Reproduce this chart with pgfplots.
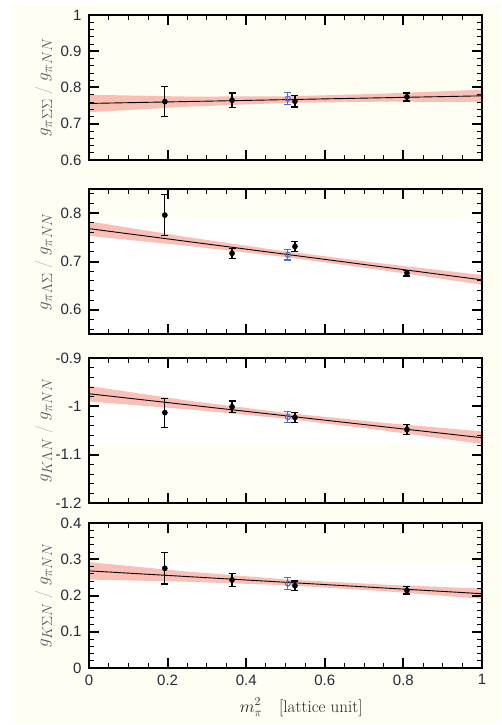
\documentclass[border=0pt]{standalone}
\usepackage{fontspec}
\usepackage{pgfplots}
\pgfplotsset{compat=1.18}
\newfontfamily\tickfont{Liberation Sans}
\definecolor{cream}{RGB}{255,254,242}
\definecolor{bandcol}{RGB}{250,180,170}
\definecolor{ptblue}{RGB}{70,110,220}
\definecolor{lblgray}{RGB}{85,85,95}
\definecolor{ticktext}{RGB}{40,40,60}

\pgfplotsset{
  panel/.style={
    scale only axis, width=393pt, height=145pt,
    xmin=0, xmax=1,
    xtick={0,0.2,0.4,0.6,0.8,1},
    tick align=inside,
    tick label style={font=\tickfont\fontsize{15}{15}\selectfont, text=ticktext},
    yticklabel style={xshift=-4pt},
    xticklabel style={yshift=-3pt},
    ylabel style={at={(axis description cs:-0.115,0.5)}, anchor=center,
      font=\fontsize{19}{19}\selectfont, text=lblgray},
  },
  % empty axis drawn on top: frame and inward ticks only
  frame/.style={
    scale only axis, width=393pt, height=145pt,
    xmin=0, xmax=1,
    xtick={0,0.2,0.4,0.6,0.8,1},
    minor xtick={0.05,0.1,0.15,0.25,0.3,0.35,0.45,0.5,0.55,0.65,0.7,0.75,0.85,0.9,0.95},
    tick align=inside, xtick pos=both, ytick pos=both,
    major tick length=10pt, minor tick length=5pt,
    major tick style={line width=2pt, black},
    minor tick style={line width=0.9pt, black},
    axis line style={line width=1.8pt},
    xticklabels={}, yticklabels={},
  },
  bandsty/.style={fill=bandcol, draw=none, fill opacity=0.85},
  fitline/.style={black, line width=0.9pt, no marks},
  pts/.style={only marks, mark=*, mark size=2.6pt, black,
    error bars/y dir=both, error bars/y explicit,
    error bars/error bar style={line width=1.2pt, black},
    error bars/error mark options={rotate=90, mark size=3.5pt, line width=1.2pt, black}},
  bluept/.style={only marks, mark=o, mark size=2.6pt, ptblue,
    mark options={fill=white, line width=1pt},
    error bars/y dir=both, error bars/y explicit,
    error bars/error bar style={line width=1.2pt, ptblue},
    error bars/error mark options={rotate=90, mark size=3.5pt, line width=1.2pt, ptblue}},
}
\pgfplotsset{/pgf/number format/assume math mode=true}

\begin{document}
\begin{tikzpicture}
\path (0pt,0pt) rectangle (501pt,-725pt);
\fill[cream] (11pt,-3pt) rectangle (501pt,-722pt);
% white patches of the plot areas
\fill[white] (89pt,-218pt) rectangle (482pt,-334pt);
\fill[white] (89pt,-358pt) rectangle (482pt,-445pt);
\fill[white] (89pt,-562pt) rectangle (482pt,-668pt);

% panel 1
\begin{axis}[panel, at={(89pt,-15pt)}, anchor=north west,
  ymin=0.6, ymax=1, ytick={0.6,0.7,0.8,0.9,1}, xticklabels={},
  ylabel={$g_{\pi\Sigma\Sigma}\;{\color{gray!60}/}\;g_{\pi NN}$}]
\addplot[bandsty] coordinates {(0,0.780) (0.25,0.775) (0.5,0.7755) (0.75,0.783) (1,0.794)
  (1,0.760) (0.75,0.761) (0.5,0.7575) (0.25,0.747) (0,0.732)} -- cycle;
\addplot[fitline] coordinates {(0,0.756) (1,0.777)};
\addplot[bluept] coordinates {(0.506,0.769) +- (0,0.017)};
\addplot[pts] coordinates {
  (0.193,0.761) +- (0,0.042)
  (0.364,0.765) +- (0,0.020)
  (0.524,0.762) +- (0,0.016)
  (0.809,0.774) +- (0,0.011)};
\end{axis}
\begin{axis}[frame, at={(89pt,-15pt)}, anchor=north west,
  ymin=0.6, ymax=1, ytick={0.6,0.7,0.8,0.9,1},
  minor ytick={0.62,0.64,0.66,0.68,0.72,0.74,0.76,0.78,0.82,0.84,0.86,0.88,0.92,0.94,0.96,0.98}]
\end{axis}

% panel 2
\begin{axis}[panel, at={(89pt,-189pt)}, anchor=north west,
  ymin=0.55, ymax=0.85, ytick={0.6,0.7,0.8}, xticklabels={},
  ylabel={$g_{\pi\Lambda\Sigma}\;{\color{gray!60}/}\;g_{\pi NN}$}]
\addplot[bandsty] coordinates {(0,0.783) (0.25,0.7505) (0.5,0.721) (0.75,0.6955) (1,0.672)
  (1,0.652) (0.75,0.6815) (0.5,0.709) (0.25,0.7325) (0,0.753)} -- cycle;
\addplot[fitline] coordinates {(0,0.768) (1,0.662)};
\addplot[bluept] coordinates {(0.506,0.714) +- (0,0.011)};
\addplot[pts] coordinates {
  (0.193,0.796) +- (0,0.043)
  (0.364,0.717) +- (0,0.010)
  (0.524,0.731) +- (0,0.011)
  (0.809,0.676) +- (0,0.006)};
\end{axis}
\begin{axis}[frame, at={(89pt,-189pt)}, anchor=north west,
  ymin=0.55, ymax=0.85, ytick={0.6,0.7,0.8},
  minor ytick={0.56,0.58,0.62,0.64,0.66,0.68,0.72,0.74,0.76,0.78,0.82,0.84}]
\end{axis}

% panel 3
\begin{axis}[panel, at={(89pt,-358pt)}, anchor=north west,
  ymin=-1.2, ymax=-0.9, ytick={-1.2,-1.1,-1,-0.9}, xticklabels={},
  ylabel={$g_{K\Lambda N}\;{\color{gray!60}/}\;g_{\pi NN}$}]
\addplot[bandsty] coordinates {(0,-0.958) (0.25,-0.988) (0.5,-1.0135) (0.75,-1.034) (1,-1.052)
  (1,-1.078) (0.75,-1.050) (0.5,-1.0255) (0.25,-1.006) (0,-0.990)} -- cycle;
\addplot[fitline] coordinates {(0,-0.974) (1,-1.065)};
\addplot[bluept] coordinates {(0.506,-1.022) +- (0,0.011)};
\addplot[pts] coordinates {
  (0.193,-1.013) +- (0,0.030)
  (0.364,-1.001) +- (0,0.012)
  (0.524,-1.023) +- (0,0.011)
  (0.809,-1.048) +- (0,0.011)};
\end{axis}
\begin{axis}[frame, at={(89pt,-358pt)}, anchor=north west,
  ymin=-1.2, ymax=-0.9, ytick={-1.2,-1.1,-1,-0.9},
  minor ytick={-1.18,-1.16,-1.14,-1.12,-1.08,-1.06,-1.04,-1.02,-0.98,-0.96,-0.94,-0.92}]
\end{axis}

% panel 4
\begin{axis}[panel, at={(89pt,-523pt)}, anchor=north west,
  ymin=0, ymax=0.4, ytick={0,0.1,0.2,0.3,0.4},
  ylabel={$g_{K\Sigma N}\;{\color{gray!60}/}\;g_{\pi NN}$},
  xlabel={$m_\pi^2$\quad[lattice unit]},
  xlabel style={at={(axis description cs:0.54,-0.27)}, anchor=center,
    font=\fontsize{17}{17}\selectfont, text=black!85}]
\addplot[bandsty] coordinates {(0,0.292) (0.25,0.266) (0.5,0.2445) (0.75,0.230) (1,0.219)
  (1,0.191) (0.75,0.212) (0.5,0.2285) (0.25,0.238) (0,0.244)} -- cycle;
\addplot[fitline] coordinates {(0,0.268) (1,0.205)};
\addplot[bluept] coordinates {(0.506,0.233) +- (0,0.017)};
\addplot[pts] coordinates {
  (0.193,0.275) +- (0,0.043)
  (0.364,0.243) +- (0,0.018)
  (0.524,0.227) +- (0,0.013)
  (0.809,0.214) +- (0,0.010)};
\end{axis}
\begin{axis}[frame, at={(89pt,-523pt)}, anchor=north west,
  ymin=0, ymax=0.4, ytick={0,0.1,0.2,0.3,0.4},
  minor ytick={0.02,0.04,0.06,0.08,0.12,0.14,0.16,0.18,0.22,0.24,0.26,0.28,0.32,0.34,0.36,0.38}]
\end{axis}
\end{tikzpicture}
\end{document}
